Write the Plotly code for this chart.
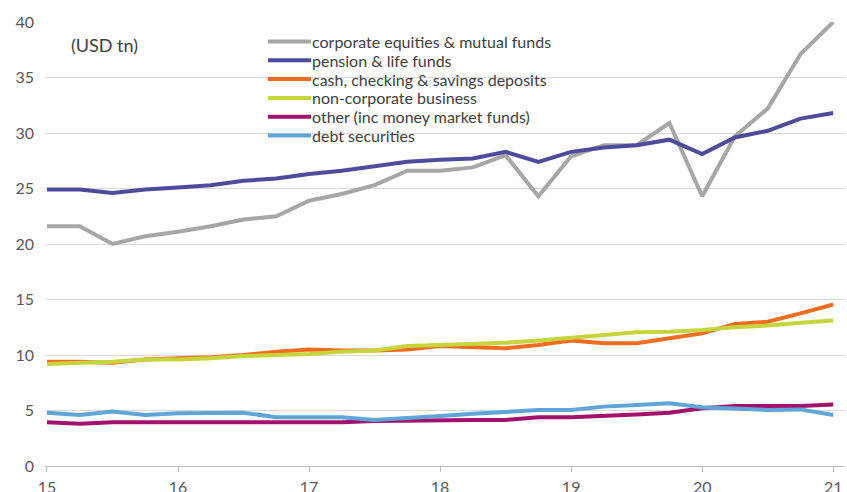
import plotly.graph_objects as go

# Quarterly observations, Q1 2015 .. Q1 2021 (axis in two-digit years)
quarters = [15 + q / 4 for q in range(25)]
year_ticks = [15, 16, 17, 18, 19, 20, 21]
year_labels = ["15", "16", "17", "18", "19", "20", "21"]

equities = [21.6, 21.6, 20.0, 20.7, 21.1, 21.6, 22.2, 22.5, 23.9, 24.5, 25.3, 26.6, 26.6,
            26.9, 28.0, 24.3, 27.9, 28.9, 28.9, 30.9, 24.3, 29.7, 32.2, 37.1, 40.0]
pension = [24.9, 24.9, 24.6, 24.9, 25.1, 25.3, 25.7, 25.9, 26.3, 26.6, 27.0, 27.4, 27.6,
           27.7, 28.3, 27.4, 28.3, 28.7, 28.9, 29.4, 28.1, 29.6, 30.2, 31.3, 31.8]
deposits = [9.4, 9.4, 9.3, 9.6, 9.7, 9.8, 10.0, 10.3, 10.5, 10.4, 10.4, 10.5, 10.8,
            10.7, 10.6, 10.9, 11.3, 11.05, 11.05, 11.5, 11.95, 12.8, 13.0, 13.75, 14.55]
noncorp = [9.2, 9.3, 9.4, 9.6, 9.6, 9.7, 9.9, 10.0, 10.1, 10.3, 10.4, 10.8, 10.9,
           11.05, 11.1, 11.3, 11.55, 11.8, 12.05, 12.1, 12.25, 12.5, 12.65, 12.9, 13.1]
other = [3.95, 3.8, 3.95, 3.95, 3.95, 3.95, 3.95, 3.95, 3.95, 3.95, 4.05, 4.1, 4.15,
         4.15, 4.15, 4.4, 4.4, 4.5, 4.65, 4.8, 5.2, 5.4, 5.4, 5.4, 5.55]
debt = [4.8, 4.6, 4.9, 4.6, 4.75, 4.75, 4.8, 4.4, 4.4, 4.4, 4.15, 4.3, 4.5,
        4.7, 4.9, 5.05, 5.05, 5.35, 5.5, 5.65, 5.3, 5.2, 5.05, 5.1, 4.6]

series = [
    ("corporate equities & mutual funds", equities, "#a6a6a6"),
    ("pension & life funds", pension, "#4c4b9c"),
    ("cash, checking & savings deposits", deposits, "#f06d1f"),
    ("non-corporate business", noncorp, "#c6d53b"),
    ("other (inc money market funds)", other, "#a2126c"),
    ("debt securities", debt, "#5fa5d7"),
]

W, H = 847, 492
M = dict(l=45, r=2, t=22, b=26)
plot_w = W - M["l"] - M["r"]
plot_h = H - M["t"] - M["b"]


def px_to_paper(x_px, y_px):
    """Convert page pixel position to paper coordinates."""
    return (x_px - M["l"]) / plot_w, (H - M["b"] - y_px) / plot_h


font_family = "Lato"
text_color = "#404040"

fig = go.Figure()
for name, values, color in series:
    fig.add_trace(go.Scatter(
        x=quarters, y=values, name=name, mode="lines",
        line=dict(color=color, width=4), showlegend=False,
    ))

# Key: short coloured strokes followed by the series names, stacked in rows
shapes = []
annotations = []
key_left, key_right, key_text_x = 268, 311, 310
key_top, key_step = 41.5, 18.8
for i, (name, _, color) in enumerate(series):
    y_px = key_top + i * key_step
    x0, yp = px_to_paper(key_left, y_px)
    x1, _ = px_to_paper(key_right, y_px)
    shapes.append(dict(type="line", xref="paper", yref="paper",
                       x0=x0, x1=x1, y0=yp, y1=yp,
                       line=dict(color=color, width=4)))
    xt, _ = px_to_paper(key_text_x, y_px)
    annotations.append(dict(text=name, x=xt, y=yp, xref="paper", yref="paper",
                            xanchor="left", yanchor="middle", showarrow=False,
                            font=dict(family=font_family, size=16, color=text_color)))

ux, uy = px_to_paper(69, 45)
annotations.append(dict(text="(USD tn)", x=ux, y=uy, xref="paper", yref="paper",
                        xanchor="left", yanchor="middle", showarrow=False,
                        font=dict(family=font_family, size=18, color=text_color)))

fig.update_layout(
    width=W, height=H, margin=M,
    paper_bgcolor="white", plot_bgcolor="white",
    font=dict(family=font_family, size=15, color=text_color),
    showlegend=False, shapes=shapes, annotations=annotations,
)

fig.update_xaxes(
    range=[14.985, 21.09], tickvals=year_ticks, ticktext=year_labels,
    showgrid=False, zeroline=False, showline=True, linecolor="#bfbfbf", linewidth=1,
    ticks="outside", ticklen=5, tickcolor="#bfbfbf", ticklabelstandoff=2,
    tickfont=dict(family=font_family, size=16, color="#595959"),
    automargin=False,
)
fig.update_yaxes(
    range=[0, 40], dtick=5, showgrid=True, gridcolor="#d9d9d9", gridwidth=1,
    zeroline=False, showline=False, ticks="", ticklabelstandoff=10,
    tickfont=dict(family=font_family, size=16, color="#595959"),
    automargin=False,
)

fig.write_html("out.html")
